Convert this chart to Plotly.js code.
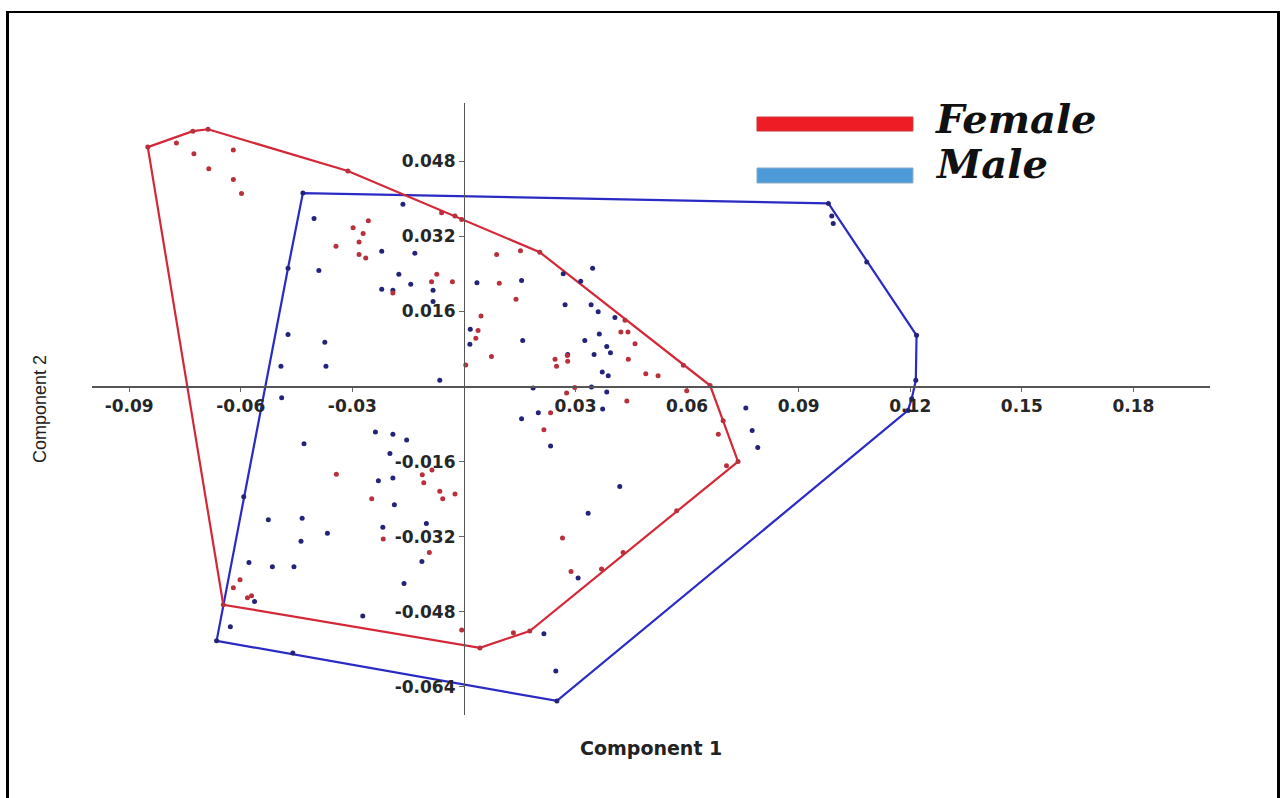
<!DOCTYPE html>
<html>
<head>
<meta charset="utf-8">
<script src="https://cdn.plot.ly/plotly-3.0.1.min.js"></script>
<style>
  html, body { margin: 0; padding: 0; background: #fff; overflow: hidden; }
  #chart { position: absolute; left: 0; top: 0; width: 1283px; height: 798px; }
  #frame {
    position: absolute; left: 6px; top: 11px; width: 1274px; height: 800px;
    box-sizing: border-box; border: 3px solid #000; border-bottom: none;
    border-top-width: 2px; pointer-events: none;
  }
</style>
</head>
<body>
<div id="chart"></div>
<div id="frame"></div>
<script>
// PCA scores: Component 1 (x) and Component 2 (y) per specimen
const femaleX = [-0.0850, -0.0729, -0.0688, -0.0773, -0.0726, -0.0620, -0.0686, -0.0620, -0.0598, -0.0312,
  -0.0060, -0.0024, -0.0006, -0.0257, -0.0298, -0.0271, -0.0282, -0.0344, -0.0282, -0.0264,
  -0.0073, -0.0087, -0.0031, -0.0191, 0.0005, 0.0046, 0.0032, 0.0038, 0.0088, 0.0152,
  0.0095, 0.0140, 0.0074, 0.0245, 0.0249, 0.0278, 0.0279, 0.0422, 0.0441, 0.0460,
  0.0442, 0.0489, 0.0522, 0.0433, 0.0590, 0.0599, 0.0697, 0.0204, 0.0662, 0.0737,
  0.0177, 0.0043, -0.0647, 0.0276, 0.0438, 0.0233, 0.0684, 0.0706, 0.0265, 0.0288,
  0.0133, 0.0370, 0.0428, 0.0572, -0.0006, -0.0343, -0.0248, -0.0217, -0.0112, -0.0108,
  -0.0086, -0.0065, -0.0057, -0.0024, -0.0093, -0.0602, -0.0620, -0.0582, -0.0571, 0.0215,
  0.0298];
const femaleY = [0.0510, 0.0544, 0.0548, 0.0519, 0.0496, 0.0504, 0.0464, 0.0441, 0.0411, 0.0459,
  0.0370, 0.0363, 0.0356, 0.0353, 0.0338, 0.0326, 0.0308, 0.0299, 0.0281, 0.0274,
  0.0239, 0.0223, 0.0223, 0.0199, 0.0046, 0.0150, 0.0103, 0.0119, 0.0281, 0.0289,
  0.0220, 0.0186, 0.0064, 0.0058, 0.0043, 0.0066, 0.0054, 0.0116, 0.0116, 0.0091,
  0.0058, 0.0027, 0.0023, 0.0141, 0.0045, -0.0009, -0.0073, 0.0286, 0.0002, -0.0160,
  -0.0521, -0.0557, -0.0465, -0.0014, -0.0031, -0.0056, -0.0102, -0.0169, -0.0323, -0.0394,
  -0.0525, -0.0389, -0.0354, -0.0265, -0.0519, -0.0187, -0.0239, -0.0325, -0.0188, -0.0205,
  -0.0178, -0.0223, -0.0239, -0.0229, -0.0354, -0.0412, -0.0429, -0.0450, -0.0446, -0.0092,
  -0.0002];

const maleX = [-0.0164, -0.0403, -0.0221, -0.0132, -0.0390, -0.0175, -0.0143, 0.0035, -0.0221, -0.0191,
  -0.0083, -0.0083, -0.0473, -0.0374, -0.0492, -0.0371, -0.0065, 0.0017, 0.0016, 0.0155,
  0.0346, 0.0267, 0.0314, 0.0272, 0.0342, 0.0361, 0.0406, 0.0364, 0.0325, 0.0158,
  0.0384, 0.0350, 0.0394, 0.0372, 0.0388, 0.0279, 0.0186, 0.0343, 0.0384, -0.0490,
  0.0989, 0.0993, 0.1083, 0.1217, 0.1215, 0.1204, 0.0758, 0.0775, 0.0790, 0.0373,
  0.0155, 0.0200, 0.0233, 0.0419, 0.0334, 0.0307, 0.0215, 0.0247, -0.0430, -0.0238,
  -0.0191, -0.0154, -0.0199, -0.0230, -0.0191, -0.0526, -0.0435, -0.0367, -0.0438, -0.0218,
  -0.0187, -0.0101, -0.0113, -0.0161, -0.0578, -0.0515, -0.0457, -0.0563, -0.0628, -0.0272,
  -0.0592, -0.0665, -0.0460, -0.0433, 0.0980, 0.0250, 0.1194, -0.0473];
const maleY = [0.0388, 0.0358, 0.0288, 0.0284, 0.0247, 0.0239, 0.0218, 0.0221, 0.0207, 0.0205,
  0.0205, 0.0181, 0.0111, 0.0094, 0.0043, 0.0043, 0.0013, 0.0122, 0.0090, 0.0226,
  0.0252, 0.0240, 0.0224, 0.0174, 0.0174, 0.0159, 0.0147, 0.0112, 0.0098, 0.0098,
  0.0085, 0.0068, 0.0072, 0.0031, 0.0023, 0.0068, -0.0003, -0.0001, -0.0012, -0.0024,
  0.0363, 0.0347, 0.0265, 0.0109, 0.0013, -0.0026, -0.0046, -0.0094, -0.0130, -0.0048,
  -0.0069, -0.0056, -0.0127, -0.0213, -0.0270, -0.0408, -0.0527, -0.0606, -0.0122, -0.0097,
  -0.0102, -0.0114, -0.0143, -0.0201, -0.0195, -0.0284, -0.0281, -0.0313, -0.0330, -0.0300,
  -0.0252, -0.0292, -0.0373, -0.0420, -0.0375, -0.0384, -0.0384, -0.0458, -0.0512, -0.0489,
  -0.0235, -0.0542, -0.0568, 0.0412, 0.0390, -0.0670, -0.0051, 0.0252];

const xTicks = [-0.09, -0.06, -0.03, 0.03, 0.06, 0.09, 0.12, 0.15, 0.18];
const xTickText = ['-0.09', '-0.06', '-0.03', '0.03', '0.06', '0.09', '0.12', '0.15', '0.18'];
const yTicks = [0.048, 0.032, 0.016, -0.016, -0.032, -0.048, -0.064];
const yTickText = ['0.048', '0.032', '0.016', '-0.016', '-0.032', '-0.048', '-0.064'];

const groups = ['Female', 'Male'];

// Convex hull (monotone chain), returned as a closed ring
function convexHull(xs, ys) {
  const pts = xs.map((x, i) => [x, ys[i]]).sort((a, b) => a[0] - b[0] || a[1] - b[1]);
  const cross = (o, a, b) => (a[0] - o[0]) * (b[1] - o[1]) - (a[1] - o[1]) * (b[0] - o[0]);
  const lower = [], upper = [];
  for (const p of pts) {
    while (lower.length >= 2 && cross(lower[lower.length - 2], lower[lower.length - 1], p) <= 0) lower.pop();
    lower.push(p);
  }
  for (let i = pts.length - 1; i >= 0; i--) {
    const p = pts[i];
    while (upper.length >= 2 && cross(upper[upper.length - 2], upper[upper.length - 1], p) <= 0) upper.pop();
    upper.push(p);
  }
  const hull = lower.slice(0, -1).concat(upper.slice(0, -1));
  hull.push(hull[0]);
  return { x: hull.map(p => p[0]), y: hull.map(p => p[1]) };
}

const fHull = convexHull(femaleX, femaleY);
const mHull = convexHull(maleX, maleY);

const traces = [
  { x: mHull.x, y: mHull.y, mode: 'lines', line: { color: '#2a2ac4', width: 2.2 }, hoverinfo: 'skip', showlegend: false },
  { x: fHull.x, y: fHull.y, mode: 'lines', line: { color: '#d42838', width: 2.2 }, hoverinfo: 'skip', showlegend: false },
  { x: maleX, y: maleY, name: groups[1], mode: 'markers', marker: { color: '#23237a', size: 5 }, showlegend: false },
  { x: femaleX, y: femaleY, name: groups[0], mode: 'markers', marker: { color: '#b8303c', size: 5 }, showlegend: false }
];

const xRange = [-0.1, 0.2006];
const yRange = [-0.07, 0.0604];
const tickFont = { family: 'DejaVu Sans', size: 17, color: '#262626', weight: 'bold' };

const layout = {
  width: 1283, height: 798,
  margin: { l: 92, r: 73, t: 103, b: 83 },
  paper_bgcolor: '#ffffff', plot_bgcolor: '#ffffff',
  showlegend: false,
  xaxis: {
    range: xRange, anchor: 'free',
    position: (0 - yRange[0]) / (yRange[1] - yRange[0]),
    showgrid: false, zeroline: false,
    showline: true, linecolor: '#555', linewidth: 1.2,
    ticks: 'outside', ticklen: 4, tickcolor: '#666', tickwidth: 1,
    tickvals: xTicks, ticktext: xTickText, tickfont: tickFont
  },
  yaxis: {
    range: yRange, anchor: 'free',
    position: (0 - xRange[0]) / (xRange[1] - xRange[0]),
    showgrid: false, zeroline: false,
    showline: true, linecolor: '#555', linewidth: 1.2,
    ticks: 'outside', ticklen: 5, tickcolor: '#666', tickwidth: 1,
    tickvals: yTicks, ticktext: yTickText, tickfont: tickFont
  },
  shapes: [
    { type: 'rect', xref: 'paper', yref: 'paper', x0: 0.5948, x1: 0.7343, y0: 0.9542, y1: 0.9771,
      fillcolor: '#ee1c24', line: { color: '#c8383c', width: 1 } },
    { type: 'rect', xref: 'paper', yref: 'paper', x0: 0.5948, x1: 0.7343, y0: 0.8693, y1: 0.8938,
      fillcolor: '#4d9ad9', line: { color: '#8aa9c4', width: 1 } }
  ],
  annotations: [
    { text: groups[0], xref: 'paper', yref: 'paper', x: 0.752, y: 0.9739, xanchor: 'left', yanchor: 'middle',
      showarrow: false, font: { family: 'DejaVu Serif', size: 40, color: '#111', style: 'italic', weight: 'bold' } },
    { text: groups[1], xref: 'paper', yref: 'paper', x: 0.752, y: 0.9011, xanchor: 'left', yanchor: 'middle',
      showarrow: false, font: { family: 'DejaVu Serif', size: 40, color: '#111', style: 'italic', weight: 'bold' } },
    { text: 'Component 1', xref: 'paper', yref: 'paper', x: 0.5, y: -0.0539, xanchor: 'center', yanchor: 'middle',
      showarrow: false, font: { family: 'DejaVu Sans', size: 19, color: '#222', weight: 'bold' } },
    { text: 'Component 2', xref: 'paper', yref: 'paper', x: -0.0465, y: 0.5, xanchor: 'center', yanchor: 'middle',
      textangle: -90, showarrow: false, font: { family: 'Liberation Sans', size: 18, color: '#222' } }
  ]
};

Plotly.newPlot('chart', traces, layout, { displayModeBar: false, staticPlot: true });
</script>
</body>
</html>
